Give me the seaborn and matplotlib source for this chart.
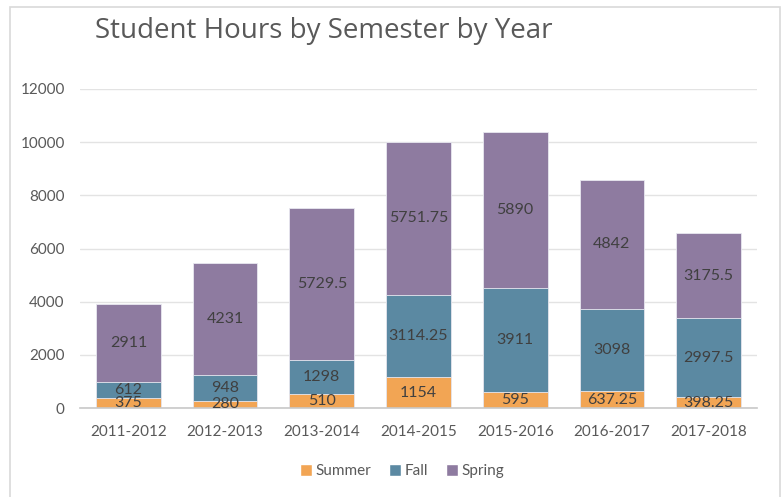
import numpy as np
import pandas as pd
import matplotlib.pyplot as plt
import seaborn as sns
from matplotlib.patches import Rectangle, Patch

years = ["2011-2012", "2012-2013", "2013-2014", "2014-2015",
         "2015-2016", "2016-2017", "2017-2018"]
summer = [375, 280, 510, 1154, 595, 637.25, 398.25]
fall = [612, 948, 1298, 3114.25, 3911, 3098, 2997.5]
spring = [2911, 4231, 5729.5, 5751.75, 5890, 4842, 3175.5]

colors = {"Summer": "#F2A554", "Fall": "#5B89A2", "Spring": "#8E7BA0"}

df = pd.DataFrame({"Year": years, "Summer": summer, "Fall": fall, "Spring": spring})
df["SummerTop"] = df["Summer"]
df["FallTop"] = df["Summer"] + df["Fall"]
df["SpringTop"] = df["FallTop"] + df["Spring"]

sns.set_theme(style="white")
plt.rcParams["font.family"] = ["Lato", "DejaVu Sans"]

fig = plt.figure(figsize=(7.81, 4.97), dpi=100)
ax = fig.add_axes([80 / 781, 1 - 408 / 497, 677 / 781, 319 / 497])

# draw cumulative totals, tallest first, so shorter ones sit on top
for col, name in [("SpringTop", "Spring"), ("FallTop", "Fall"), ("SummerTop", "Summer")]:
    sns.barplot(data=df, x="Year", y=col, color=colors[name], saturation=1,
                width=0.67, edgecolor="#E8E8F0", linewidth=0.6, ax=ax, zorder=3)

label_color = "#404040"
for i in range(len(years)):
    ax.text(i, df["Summer"][i] / 2, f"{summer[i]:g}", ha="center", va="center",
            fontsize=11.5, color=label_color, zorder=5)
    ax.text(i, df["Summer"][i] + df["Fall"][i] / 2, f"{fall[i]:g}", ha="center",
            va="center", fontsize=11.5, color=label_color, zorder=5)
    ax.text(i, df["FallTop"][i] + df["Spring"][i] / 2, f"{spring[i]:g}", ha="center",
            va="center", fontsize=11.5, color=label_color, zorder=5)

ax.set_ylim(0, 12000)
ax.set_xlim(-0.5, len(years) - 0.5)
ax.set_yticks(np.arange(0, 12001, 2000))
ax.yaxis.grid(True, color="#E3E3E3", linewidth=1, zorder=0)
ax.set_axisbelow(True)
for s in ["top", "right", "left"]:
    ax.spines[s].set_visible(False)
ax.spines["bottom"].set_color("#C8C8C8")
ax.spines["bottom"].set_linewidth(1.2)
ax.spines["bottom"].set_zorder(4)
ax.tick_params(axis="both", length=0, labelsize=11, colors="#595959")
ax.tick_params(axis="y", pad=11)
ax.tick_params(axis="x", pad=12)
ax.set_xlabel("")
ax.set_ylabel("")

fig.text(95 / 781, 1 - 31 / 497, "Student Hours by Semester by Year", fontsize=20,
         family=["Open Sans", "DejaVu Sans"], color="#595959", ha="left", va="center")

handles = [Patch(facecolor=colors[n], label=n) for n in ["Summer", "Fall", "Spring"]]
fig.legend(handles=handles, loc="center", bbox_to_anchor=(402 / 781, 1 - 471 / 497),
           ncol=3, frameon=False, fontsize=11, handlelength=0.8, handleheight=0.8,
           handletextpad=0.2, columnspacing=1.2, labelcolor="#595959")

fig.patches.append(Rectangle((10 / 781, -0.05), 770 / 781, 1.05 - 7 / 497,
                             transform=fig.transFigure, fill=False,
                             edgecolor="#D9D9D9", linewidth=1.2))

fig.savefig("out.png", dpi=100)
